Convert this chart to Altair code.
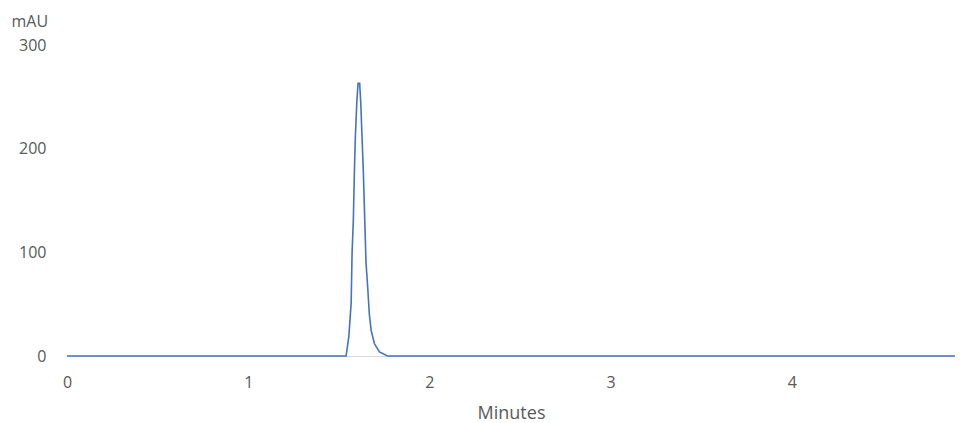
import altair as alt
import pandas as pd

minutes = [0.0, 0.5, 1.0, 1.5, 1.540, 1.555, 1.568, 1.573, 1.580, 1.586, 1.591, 1.599, 1.606,
           1.615, 1.621, 1.628, 1.635, 1.643, 1.650, 1.659, 1.668, 1.678, 1.696, 1.724,
           1.769, 2.0, 3.0, 4.0, 4.90]
mau = [0, 0, 0, 0, 0, 18.6, 51, 99, 131, 179, 211, 244, 263,
       263, 244, 211, 179, 131, 90, 67, 41, 25, 12, 4,
       0, 0, 0, 0, 0]

x_ticks = [0, 1, 2, 3, 4]
y_ticks = [0, 100, 200, 300]

df = pd.DataFrame({"Minutes": minutes, "mAU": mau})

FONT = "Open Sans"
GRAY = "#595959"

chart = alt.Chart(df).mark_line(color="#4472C4", strokeWidth=1.6).encode(
    x=alt.X("Minutes:Q",
            scale=alt.Scale(domain=[0, 4.90], nice=False, zero=False),
            axis=alt.Axis(values=x_ticks, format="d", title="Minutes", grid=False,
                          ticks=False, domain=True, domainColor="#d9d9d9", domainWidth=1,
                          labelFlush=False,
                          labelPadding=18, titlePadding=14, labelFontSize=16,
                          titleFontSize=18, titleFontWeight="normal",
                          labelColor=GRAY, titleColor=GRAY,
                          labelFont=FONT, titleFont=FONT)),
    y=alt.Y("mAU:Q",
            scale=alt.Scale(domain=[0, 300], nice=False),
            axis=alt.Axis(values=y_ticks, format="d", title="mAU", grid=False,
                          ticks=False, domain=False, labelPadding=21,
                          labelFontSize=16, titleFontSize=16, titleFontWeight="normal",
                          labelColor=GRAY, titleColor=GRAY,
                          labelFont=FONT, titleFont=FONT,
                          titleAngle=0, titleAlign="left", titleBaseline="middle",
                          titleX=-56, titleY=-24)),
).properties(
    width=888, height=311,
    background="white",
    autosize=alt.AutoSizeParams(type="none"),
    padding={"left": 59, "top": 37, "right": 0, "bottom": 72},
).configure_view(stroke=None)

chart.save("out.html", embed_options={"renderer": "svg", "actions": False})
